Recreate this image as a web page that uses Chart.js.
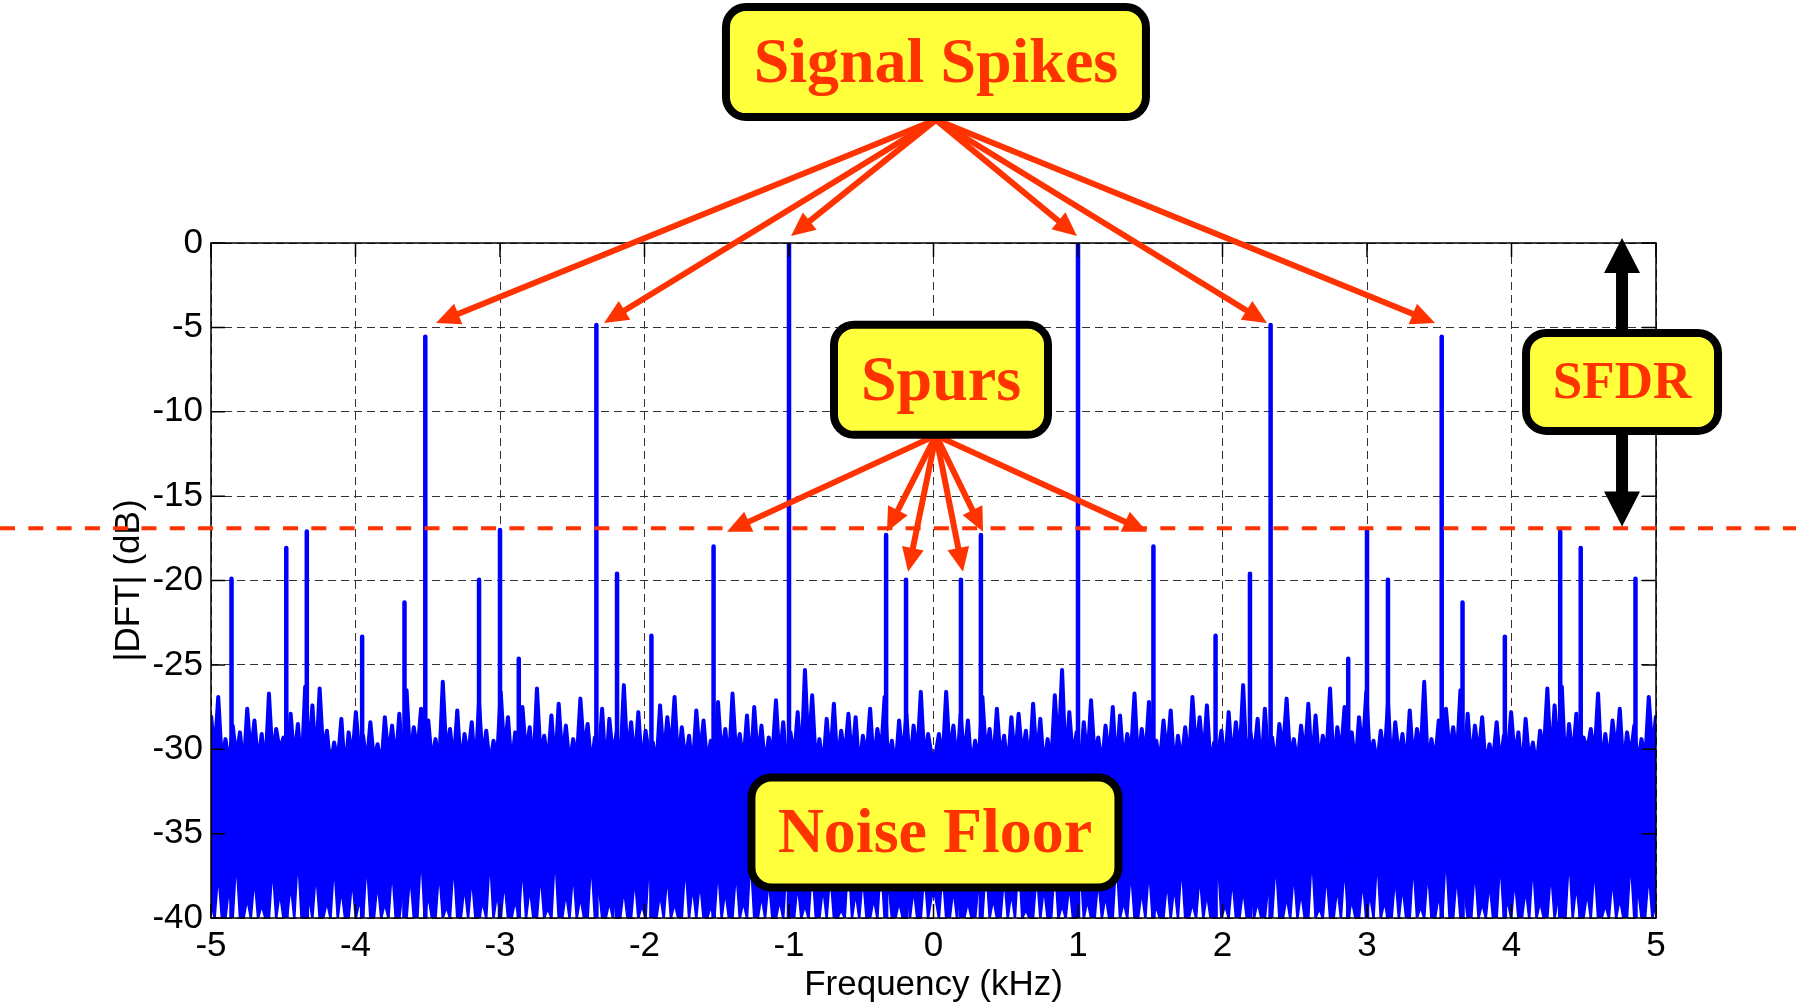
<!DOCTYPE html>
<html>
<head>
<meta charset="utf-8">
<title>DFT spectrum - signal spikes, spurs, noise floor</title>
<script src="https://cdn.jsdelivr.net/npm/chart.js@4.4.1/dist/chart.umd.min.js"></script>
<style>
  html, body { margin: 0; padding: 0; background: #fff; }
  canvas { display: block; }
</style>
</head>
<body>
<canvas id="dft" width="1796" height="1005"></canvas>
<script>
// axis ticks
const freqTicks = [-5, -4, -3, -2, -1, 0, 1, 2, 3, 4, 5];
const levelTicks = [0, -5, -10, -15, -20, -25, -30, -35, -40];

// noise floor, upper edge (dB), bins evenly spread over -5..5 kHz
const noiseTop = [
  -28.0,-30.2,-26.9,-30.8,-29.4,-31.0,-28.6,-30.5,-29.0,-31.2,-27.6,-30.4,-28.3,-30.9,-29.1,-31.3,-26.7,-30.6,-28.8,-30.1,
  -29.3,-31.0,-27.9,-30.7,-28.5,-31.4,-26.3,-30.2,-27.4,-30.9,-26.4,-30.3,-28.9,-31.1,-29.6,-30.8,-28.2,-31.5,-29.0,-30.6,
  -27.8,-30.4,-29.2,-31.0,-28.4,-30.7,-29.7,-31.2,-28.1,-30.5,-28.6,-30.9,-27.9,-31.3,-26.5,-30.6,-28.7,-30.2,-27.6,-31.0,
  -28.3,-30.8,-29.4,-31.1,-26.0,-30.4,-28.8,-30.9,-27.7,-31.2,-29.1,-30.5,-28.4,-31.4,-27.2,-30.7,-28.9,-31.0,-29.5,-30.6,
  -26.6,-30.3,-28.1,-31.1,-29.0,-30.8,-27.5,-30.4,-28.7,-31.3,-26.4,-30.5,-29.2,-30.9,-28.0,-31.2,-27.3,-30.6,-28.6,-31.0,
  -29.4,-30.7,-27.0,-30.2,-28.5,-31.1,-29.3,-30.8,-27.6,-31.4,-28.2,-30.5,-29.0,-31.0,-26.2,-30.6,-28.4,-30.9,-27.8,-31.2,
  -28.9,-30.4,-29.6,-31.1,-27.4,-30.7,-28.1,-30.3,-26.9,-31.0,-28.7,-30.8,-29.2,-31.3,-27.7,-30.5,-28.3,-30.9,-29.5,-31.2,
  -27.2,-30.6,-28.8,-31.0,-26.7,-30.4,-29.1,-30.9,-28.0,-31.3,-27.5,-30.7,-28.6,-31.1,-29.3,-30.5,-27.1,-30.8,-28.4,-31.2,
  -29.0,-30.6,-27.8,-31.0,-25.3,-30.3,-26.8,-30.9,-29.4,-31.2,-28.2,-30.7,-27.3,-31.1,-28.9,-30.5,-27.9,-30.8,-28.1,-31.3,
  -29.2,-30.6,-27.6,-31.0,-28.8,-30.4,-26.9,-30.9,-29.5,-31.2,-28.3,-30.7,-27.9,-31.1,-28.6,-30.5,-26.6,-30.8,-29.1,-30.4,
  -30.4,-29.1,-30.8,-26.6,-30.5,-28.6,-31.1,-27.9,-30.7,-28.3,-31.2,-29.5,-30.9,-26.9,-30.4,-28.8,-31.0,-27.6,-30.6,-29.2,
  -31.3,-28.1,-30.8,-27.9,-30.5,-28.9,-31.1,-27.3,-30.7,-28.2,-31.2,-29.4,-30.9,-26.8,-30.3,-25.3,-31.0,-27.8,-30.6,-29.0,
  -31.2,-28.4,-30.8,-27.1,-30.5,-29.3,-31.1,-28.6,-30.7,-27.5,-31.3,-28.0,-30.9,-29.1,-30.4,-26.7,-31.0,-28.8,-30.6,-27.2,
  -31.2,-29.5,-30.9,-28.3,-30.5,-27.7,-31.3,-29.2,-30.8,-28.7,-31.0,-26.9,-30.3,-28.1,-30.7,-27.4,-31.1,-29.6,-30.4,-28.9,
  -31.2,-27.8,-30.9,-28.4,-30.6,-26.2,-31.0,-29.0,-30.5,-28.2,-31.4,-27.6,-30.8,-29.3,-31.1,-28.5,-30.2,-27.0,-30.7,-29.4,
  -31.0,-28.6,-30.6,-27.3,-31.2,-28.0,-30.9,-29.2,-30.5,-26.4,-31.3,-28.7,-30.4,-27.5,-30.8,-29.0,-31.1,-28.1,-30.3,-26.6,
  -30.6,-29.5,-31.0,-28.9,-30.7,-27.2,-31.4,-28.4,-30.5,-29.1,-31.2,-27.7,-30.9,-28.8,-30.4,-26.0,-31.1,-29.4,-30.8,-28.3,
  -31.0,-27.6,-30.2,-28.7,-30.6,-26.5,-31.3,-27.9,-30.9,-28.6,-30.5,-28.1,-31.2,-29.7,-30.7,-28.4,-31.0,-29.2,-30.4,-27.8,
  -30.6,-29.0,-31.5,-28.2,-30.8,-29.6,-31.1,-28.9,-30.3,-26.4,-30.9,-27.4,-30.2,-26.3,-31.4,-28.5,-30.7,-27.9,-31.0,-29.3,
  -30.1,-28.8,-30.6,-26.7,-31.3,-29.1,-30.9,-28.3,-30.4,-27.6,-31.2,-29.0,-30.5,-28.6,-31.0,-29.4,-30.8,-26.9,-30.2,-28.0
];

// noise floor, lower edge (dB) - the white slivers coming up from -40
const noiseBottom = [
  -39.0,-40,-37.2,-40,-40,-38.1,-40,-36.3,-40,-40,-38.8,-40,-37.5,-40,-39.2,-40,-40,-36.8,-40,-38.4,
  -40,-40,-37.9,-40,-36.1,-40,-40,-38.7,-40,-37.1,-40,-40,-39.0,-40,-36.6,-40,-38.2,-40,-40,-37.6,
  -40,-38.9,-40,-36.4,-40,-40,-37.8,-40,-39.1,-40,-36.9,-40,-40,-38.3,-40,-37.3,-40,-40,-35.9,-40,
  -38.6,-40,-40,-37.0,-40,-39.3,-40,-36.5,-40,-40,-38.0,-40,-37.4,-40,-40,-39.0,-40,-36.2,-40,-38.5,
  -40,-37.7,-40,-40,-38.9,-40,-36.7,-40,-38.1,-40,-40,-37.2,-40,-39.4,-40,-36.0,-40,-40,-38.4,-40,
  -37.1,-40,-38.7,-40,-40,-36.4,-40,-37.9,-40,-40,-39.0,-40,-36.8,-40,-38.2,-40,-40,-37.5,-40,-39.2,
  -40,-36.3,-40,-40,-38.5,-40,-37.3,-40,-39.1,-40,-40,-36.6,-40,-38.0,-40,-37.7,-40,-40,-39.3,-40,
  -36.9,-40,-38.3,-40,-40,-37.0,-40,-39.0,-40,-36.2,-40,-40,-38.6,-40,-37.6,-40,-40,-38.9,-40,-36.5,
  -40,-40,-37.9,-40,-39.2,-40,-36.7,-40,-40,-38.1,-40,-37.2,-40,-40,-39.5,-40,-36.1,-40,-38.4,-40,
  -37.4,-40,-40,-38.8,-40,-36.6,-40,-37.8,-40,-40,-39.0,-40,-36.9,-40,-38.2,-40,-40,-37.1,-40,-38.7,
  -38.7,-40,-37.1,-40,-40,-38.2,-40,-36.9,-40,-39.0,-40,-40,-37.8,-40,-36.6,-40,-38.8,-40,-40,-37.4,
  -40,-38.4,-40,-36.1,-40,-39.5,-40,-40,-37.2,-40,-38.1,-40,-40,-36.7,-40,-39.2,-40,-37.9,-40,-40,
  -36.5,-40,-38.9,-40,-40,-37.6,-40,-38.6,-40,-40,-36.2,-40,-39.0,-40,-37.0,-40,-40,-38.3,-40,-36.9,
  -40,-39.3,-40,-40,-37.7,-40,-38.0,-40,-36.6,-40,-40,-39.1,-40,-37.3,-40,-38.5,-40,-40,-36.3,-40,
  -39.2,-40,-37.5,-40,-40,-38.2,-40,-36.8,-40,-39.0,-40,-40,-37.9,-40,-36.4,-40,-40,-38.7,-40,-37.1,
  -40,-38.4,-40,-40,-36.0,-40,-39.4,-40,-37.2,-40,-40,-38.1,-40,-36.7,-40,-38.9,-40,-40,-37.7,-40,
  -38.5,-40,-36.2,-40,-39.0,-40,-40,-37.4,-40,-38.0,-40,-40,-36.5,-40,-39.3,-40,-37.0,-40,-40,-38.6,
  -40,-35.9,-40,-40,-37.3,-40,-38.3,-40,-40,-36.9,-40,-39.1,-40,-37.8,-40,-40,-36.4,-40,-38.9,-40,
  -37.6,-40,-40,-38.2,-40,-36.6,-40,-39.0,-40,-40,-37.1,-40,-38.7,-40,-40,-36.1,-40,-37.9,-40,-40,
  -38.4,-40,-36.8,-40,-40,-39.2,-40,-37.5,-40,-38.8,-40,-40,-36.3,-40,-38.1,-40,-40,-37.2,-40,-39.0
];

// signal spikes (kHz, dB)
const signalFreqs  = [-3.517, -2.333, -1.0, 1.0, 2.333, 3.517];
const signalLevels = [-5.55, -4.86, 0, 0, -4.86, -5.55];

// spurs and other tall bins (kHz, dB)
const spurFreqs  = [-4.858, -4.479, -4.337, -3.954, -3.661, -3.145, -3.0, -2.87, -2.19, -1.952, -1.522, -0.328, -0.19,
                    0.19, 0.328, 1.522, 1.952, 2.19, 2.87, 3.0, 3.145, 3.661, 3.954, 4.337, 4.479, 4.858];
const spurLevels = [-19.9, -18.07, -17.09, -23.33, -21.3, -19.95, -17.0, -24.63, -19.6, -23.27, -17.98, -17.3, -19.95,
                    -19.95, -17.3, -17.98, -23.27, -19.6, -24.63, -17.0, -19.95, -21.3, -23.33, -17.09, -18.07, -19.9];

// largest spur level, marked by the dashed line
const sfdrLevel = -16.9;

const freqMin = -5, freqMax = 5, levelMin = -40, levelMax = 0;

// arrow ends in data units [kHz, dB]
const spikeArrowFrom = [0.017, 7.3];
const spikeArrowTo = [[-3.443, -4.74], [-2.28, -4.74], [-0.986, 0.41], [0.993, 0.41], [2.308, -4.74], [3.471, -4.74]];
const spurArrowFrom = [0.017, -11.4];
const spurArrowTo = [[-1.429, -17.11], [-0.322, -17.11], [-0.176, -19.48], [0.204, -19.48], [0.343, -17.11], [1.478, -17.11]];
const sfdrArrow = { f: 4.765, top: 0.3, bottom: -16.8 };

const notes = [
  { text: 'Signal Spikes', f: 0.017, db: 10.72, w: 428, h: 118, size: 64 },
  { text: 'Spurs',         f: 0.052, db: -8.11, w: 222, h: 118, size: 64 },
  { text: 'SFDR',          f: 4.765, db: -8.23, w: 200, h: 106, size: 53 },
  { text: 'Noise Floor',   f: 0.010, db: -34.93, w: 375, h: 118, size: 64 }
];

const BLUE = '#0000ff';
const RED = '#ff3300';
const YELLOW = '#ffff3c';

function binPoints(values) {
  const step = (freqMax - freqMin) / (values.length - 1);
  return values.map((v, i) => ({ x: freqMin + i * step, y: v }));
}

function stemPoints(freqs, levels) {
  const pts = [];
  freqs.forEach((f, i) => {
    pts.push({ x: f, y: levelMin }, { x: f, y: levels[i] }, { x: f, y: null });
  });
  return pts;
}

function drawArrow(ctx, x0, y0, x1, y1, width, headLen, headHalf, color) {
  const a = Math.atan2(y1 - y0, x1 - x0);
  const bx = x1 - headLen * Math.cos(a), by = y1 - headLen * Math.sin(a);
  ctx.strokeStyle = color;
  ctx.lineWidth = width;
  ctx.lineCap = 'butt';
  ctx.beginPath();
  ctx.moveTo(x0, y0);
  ctx.lineTo(bx + 1 * Math.cos(a), by + 1 * Math.sin(a));
  ctx.stroke();
  ctx.fillStyle = color;
  ctx.beginPath();
  ctx.moveTo(x1, y1);
  ctx.lineTo(bx + headHalf * Math.sin(a), by - headHalf * Math.cos(a));
  ctx.lineTo(bx - headHalf * Math.sin(a), by + headHalf * Math.cos(a));
  ctx.closePath();
  ctx.fill();
}

const frameAndNotes = {
  id: 'frameAndNotes',
  afterDatasetsDraw(chart) {
    const { ctx, chartArea: a, scales: { x, y } } = chart;
    ctx.save();
    ctx.strokeStyle = '#000';
    ctx.lineWidth = 1.5;
    ctx.setLineDash([]);
    ctx.strokeRect(a.left, a.top, a.right - a.left, a.bottom - a.top);
    // matlab style inner tick marks
    ctx.beginPath();
    freqTicks.forEach(v => {
      const px = x.getPixelForValue(v);
      ctx.moveTo(px, a.bottom); ctx.lineTo(px, a.bottom - 14);
      ctx.moveTo(px, a.top); ctx.lineTo(px, a.top + 14);
    });
    levelTicks.forEach(v => {
      const py = y.getPixelForValue(v);
      ctx.moveTo(a.left, py); ctx.lineTo(a.left + 14, py);
      ctx.moveTo(a.right, py); ctx.lineTo(a.right - 14, py);
    });
    ctx.stroke();
    ctx.restore();
  },
  afterDraw(chart) {
    const { ctx, scales: { x, y } } = chart;
    const px = f => x.getPixelForValue(f);
    const py = d => y.getPixelForValue(d);
    ctx.save();

    // SFDR level line across the whole figure
    ctx.strokeStyle = RED;
    ctx.lineWidth = 4;
    ctx.setLineDash([15, 13.3]);
    ctx.beginPath();
    ctx.moveTo(0, py(sfdrLevel));
    ctx.lineTo(chart.width, py(sfdrLevel));
    ctx.stroke();
    ctx.setLineDash([]);

    spikeArrowTo.forEach(t => drawArrow(ctx, px(spikeArrowFrom[0]), py(spikeArrowFrom[1]), px(t[0]), py(t[1]), 6, 24, 11, RED));
    spurArrowTo.forEach(t => drawArrow(ctx, px(spurArrowFrom[0]), py(spurArrowFrom[1]), px(t[0]), py(t[1]), 6, 24, 11, RED));

    // SFDR double arrow
    const sx = px(sfdrArrow.f), midY = (py(sfdrArrow.top) + py(sfdrArrow.bottom)) / 2;
    drawArrow(ctx, sx, midY, sx, py(sfdrArrow.top), 12, 35, 18, '#000');
    drawArrow(ctx, sx, midY, sx, py(sfdrArrow.bottom), 12, 35, 18, '#000');

    notes.forEach(n => {
      const cx = px(n.f), cy = py(n.db);
      ctx.beginPath();
      ctx.roundRect(cx - n.w / 2 + 4, cy - n.h / 2 + 4, n.w - 8, n.h - 8, 20);
      ctx.fillStyle = YELLOW;
      ctx.fill();
      ctx.lineWidth = 8;
      ctx.strokeStyle = '#000';
      ctx.stroke();
      ctx.fillStyle = RED;
      ctx.font = 'bold ' + n.size + 'px "Liberation Serif", "Times New Roman", serif';
      ctx.textAlign = 'center';
      ctx.textBaseline = 'alphabetic';
      ctx.fillText(n.text, cx, cy + 0.31 * n.size);
    });
    ctx.restore();
  }
};

Chart.defaults.font.family = '"Liberation Sans", Arial, Helvetica, sans-serif';
Chart.defaults.color = '#000';

new Chart(document.getElementById('dft'), {
  type: 'line',
  data: {
    datasets: [
      {
        label: 'noise',
        data: binPoints(noiseTop),
        borderColor: BLUE,
        backgroundColor: BLUE,
        borderWidth: 4,
        borderJoinStyle: 'round',
        fill: '+1'
      },
      {
        label: 'noise-low',
        data: binPoints(noiseBottom),
        borderColor: BLUE,
        borderWidth: 2.5,
        fill: false
      },
      {
        label: 'signals',
        data: stemPoints(signalFreqs, signalLevels),
        borderColor: BLUE,
        borderWidth: 4.5,
        borderCapStyle: 'round',
        fill: false,
        spanGaps: false
      },
      {
        label: 'spurs',
        data: stemPoints(spurFreqs, spurLevels),
        borderColor: BLUE,
        borderWidth: 4.5,
        borderCapStyle: 'round',
        fill: false,
        spanGaps: false
      }
    ]
  },
  options: {
    responsive: false,
    animation: false,
    events: [],
    layout: { padding: { top: 243, right: 140, left: 0, bottom: 0 } },
    elements: { point: { radius: 0 }, line: { tension: 0 } },
    plugins: {
      legend: { display: false },
      tooltip: { enabled: false }
    },
    scales: {
      x: {
        type: 'linear',
        min: freqMin,
        max: freqMax,
        afterBuildTicks: s => { s.ticks = freqTicks.map(v => ({ value: v })); },
        afterFit: s => { s.height = 87; },
        ticks: { font: { size: 35 }, padding: 7, maxRotation: 0 },
        grid: { color: '#333', lineWidth: 1, drawTicks: false },
        border: { display: false, dash: [8, 5] },
        title: { display: true, text: 'Frequency (kHz)', font: { size: 35, lineHeight: 1.1 }, padding: { top: 0, bottom: 0 } }
      },
      y: {
        min: levelMin,
        max: levelMax,
        afterBuildTicks: s => { s.ticks = levelTicks.map(v => ({ value: v })); },
        afterFit: s => { s.width = 211; },
        ticks: { font: { size: 35 }, padding: 8 },
        grid: { color: '#333', lineWidth: 1, drawTicks: false },
        border: { display: false, dash: [8, 5] },
        title: { display: true, text: '|DFT| (dB)', font: { size: 35 }, padding: { top: 108, bottom: 0 } }
      }
    }
  },
  plugins: [frameAndNotes]
});
</script>
</body>
</html>
